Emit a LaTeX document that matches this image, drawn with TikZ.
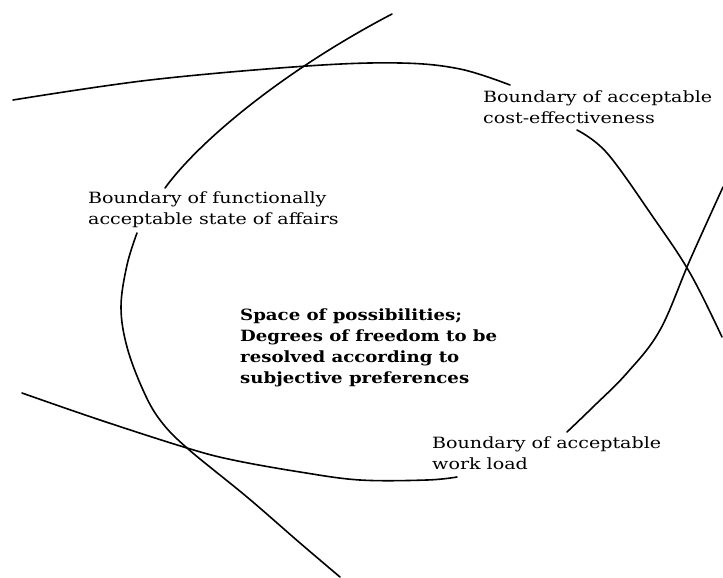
\documentclass[tikz,border=0pt]{standalone}
\usepackage{fontspec}
\setmainfont[FakeStretch=1.23]{DejaVu Serif}
\newfontfamily\boldlabelfont[FakeStretch=1.17]{DejaVu Serif}
\begin{document}
\begin{tikzpicture}[x=1pt,y=-1pt,
  boundary/.style={line width=1.6pt, line cap=round, line join=round},
  lbl/.style={anchor=north west, inner sep=0pt, align=left, font=\fontsize{15.5}{20.5}\selectfont},
  centerlbl/.style={anchor=north west, inner sep=0pt, align=left, font=\boldlabelfont\fontsize{15.5}{21}\selectfont\bfseries}]
\useasboundingbox (0,0) rectangle (723,578);
\fill[white] (0,0) rectangle (723,578);

\node[lbl] (cost) at (483,91) {Boundary of acceptable\\cost-effectiveness};
\node[lbl] (func) at (88,192) {Boundary of functionally\\acceptable state of affairs};
\node[lbl] (work) at (432,437) {Boundary of acceptable\\work load};
\node[centerlbl] (space) at (240,309) {Space of possibilities;\\Degrees of freedom to be\\resolved according to\\subjective preferences};

% cost-effectiveness boundary
\draw[boundary] plot[smooth, tension=0.6] coordinates {(13,100) (150,80) (307,66) (400,63) (460,69) (510,85)};
\draw[boundary] plot[smooth, tension=0.6] coordinates {(577,130) (607,153) (653,217) (690,273) (722,337)};

% work load boundary
\draw[boundary] plot[smooth, tension=0.6] coordinates {(723,187) (690,260) (660,330) (627,373) (593,407) (567,432)};
\draw[boundary] plot[smooth, tension=0.6] coordinates {(457,477) (427,480) (360,480) (300,472) (233,460) (187,448) (100,420) (22,393)};

% functional boundary
\coordinate (ftop) at (392,14);
\coordinate (fend) at (165,188);
\draw[boundary] (ftop) .. controls (285,70) and (200,140) .. (fend);
\draw[boundary] plot[smooth, tension=0.6] coordinates {(137,233) (127,265) (121,307) (127,347) (143,390) (160,420) (187,448) (247,497) (300,543) (340,577)};
\end{tikzpicture}
\end{document}
